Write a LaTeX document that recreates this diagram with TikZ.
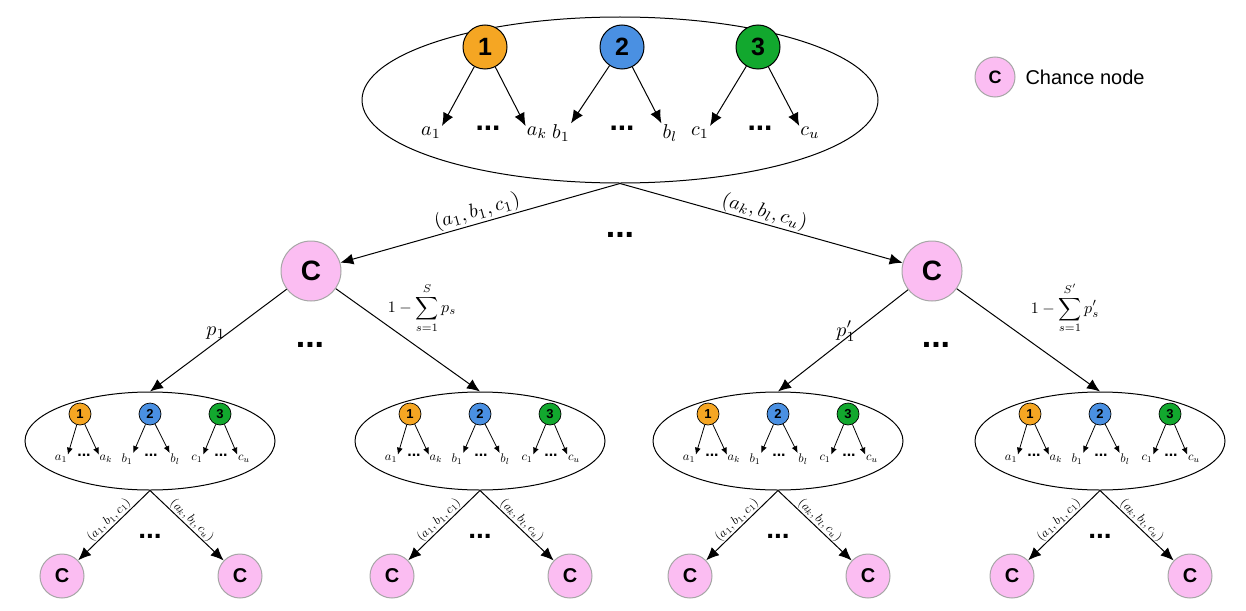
\documentclass[tikz,border=0pt]{standalone}
\usepackage{fontspec}
\newfontfamily\arial{Liberation Sans}
\usetikzlibrary{arrows.meta,shapes.geometric}
\definecolor{porange}{HTML}{F5A623}
\definecolor{pblue}{HTML}{4A90E2}
\definecolor{pgreen}{HTML}{12A82E}
\definecolor{cpink}{HTML}{FBBDF2}
\newcommand{\LabBig}[1]{\scalebox{2}{$#1$}}
\newcommand{\LabSm}[1]{\scalebox{1.25}{$#1$}}
\tikzset{
  x=1pt,y=-1pt,
  bigarr/.style={-{Latex[length=13pt,width=11pt]},line width=1pt},
  smarr/.style={-{Latex[length=7pt,width=6pt]},line width=0.8pt},
  player/.style={circle,draw,line width=1pt,minimum size=44pt,inner sep=0pt,font=\arial\bfseries\fontsize{25}{25}\selectfont},
  splayer/.style={circle,draw,line width=0.7pt,minimum size=22pt,inner sep=0pt,font=\arial\bfseries\fontsize{13}{13}\selectfont},
  chance/.style={circle,draw=gray!70,line width=1pt,fill=cpink,minimum size=#1,inner sep=0pt,font=\arial\bfseries},
  game/.style={ellipse,draw,line width=1pt},
  lab/.style={inner sep=1pt},
  slab/.style={inner sep=0.5pt},
  dots/.style={font=\arial\bfseries\fontsize{30}{30}\selectfont},
  sdots/.style={font=\arial\bfseries\fontsize{16}{16}\selectfont},
}
\newcommand{\smallgame}[3]{%
  \node[game,minimum width=250pt,minimum height=98pt] (#1) at (#2,#3) {};
  \node[splayer,fill=porange] (#1p1) at (#2-70,#3-27) {1};
  \node[splayer,fill=pblue] (#1p2) at (#2,#3-27) {2};
  \node[splayer,fill=pgreen] (#1p3) at (#2+70,#3-27) {3};
  \node[slab] (#1a1) at (#2-89,#3+18) {\LabSm{a_1}};
  \node[slab] (#1ak) at (#2-44,#3+18) {\LabSm{a_k}};
  \node[slab] (#1b1) at (#2-23,#3+18) {\LabSm{b_1}};
  \node[slab] (#1bl) at (#2+25,#3+18) {\LabSm{b_l}};
  \node[slab] (#1c1) at (#2+47,#3+18) {\LabSm{c_1}};
  \node[slab] (#1cu) at (#2+94,#3+18) {\LabSm{c_u}};
  \node[sdots] (#1d1) at (#2-66,#3+14) {...};
  \node[sdots] (#1d2) at (#2+1,#3+14) {...};
  \node[sdots] (#1d3) at (#2+71,#3+14) {...};
  \draw[smarr] (#1p1) -- (#1a1.north east);
  \draw[smarr] (#1p1) -- (#1ak.north west);
  \draw[smarr] (#1p2) -- (#1b1.north east);
  \draw[smarr] (#1p2) -- (#1bl.north west);
  \draw[smarr] (#1p3) -- (#1c1.north east);
  \draw[smarr] (#1p3) -- (#1cu.north west);
  \node[chance=44pt,font=\arial\bfseries\fontsize{20}{20}\selectfont] (#1L) at (#2-88,#3+135) {C};
  \node[chance=44pt,font=\arial\bfseries\fontsize{20}{20}\selectfont] (#1R) at (#2+90,#3+135) {C};
  \draw[bigarr] (#1.south) -- node[slab,sloped,above,pos=0.5]{\LabSm{(a_1,b_1,c_1)}} (#1L);
  \draw[bigarr] (#1.south) -- node[slab,sloped,above,pos=0.5]{\LabSm{(a_k,b_l,c_u)}} (#1R);
  \node[dots,font=\arial\bfseries\fontsize{28}{28}\selectfont] (#1dd) at (#2,#3+95) {...};
}
\begin{document}
\begin{tikzpicture}
\useasboundingbox (0,0) rectangle (1246,610);
\node[game,minimum width=516pt,minimum height=166pt] (top) at (620,100) {};
\node[player,fill=porange] (p1) at (485,47) {1};
\node[player,fill=pblue] (p2) at (622,47) {2};
\node[player,fill=pgreen] (p3) at (758,47) {3};
\node[lab] (a1) at (431,133) {\LabBig{a_1}};
\node[lab] (ak) at (537,133) {\LabBig{a_k}};
\node[lab] (b1) at (561,133) {\LabBig{b_1}};
\node[lab] (bl) at (670,133) {\LabBig{b_l}};
\node[lab] (c1) at (700,133) {\LabBig{c_1}};
\node[lab] (cu) at (810,133) {\LabBig{c_u}};
\node[dots] (d1) at (488,128) {...};
\node[dots] (d2) at (622,128) {...};
\node[dots] (d3) at (760,128) {...};
\draw[bigarr] (p1) -- (a1.north east);
\draw[bigarr] (p1) -- (ak.north west);
\draw[bigarr] (p2) -- (b1.north east);
\draw[bigarr] (p2) -- (bl.north west);
\draw[bigarr] (p3) -- (c1.north east);
\draw[bigarr] (p3) -- (cu.north west);
\node[chance=40pt,font=\arial\bfseries\fontsize{18}{18}\selectfont] (leg) at (995,77) {C};
\node[anchor=west,font=\arial\fontsize{20}{20}\selectfont] (legt) at (1022,77) {Chance node};
\node[chance=60pt,font=\arial\bfseries\fontsize{28}{28}\selectfont] (cl) at (311,271) {C};
\node[chance=60pt,font=\arial\bfseries\fontsize{28}{28}\selectfont] (cr) at (932,271) {C};
\draw[bigarr] (top.south) -- node[lab,sloped,above]{\LabBig{(a_1,b_1,c_1)}} (cl);
\draw[bigarr] (top.south) -- node[lab,sloped,above]{\LabBig{(a_k,b_l,c_u)}} (cr);
\node[dots,font=\arial\bfseries\fontsize{34}{34}\selectfont] (md) at (620,235) {...};
\smallgame{g1}{150}{441}
\smallgame{g2}{480}{441}
\smallgame{g3}{778}{441}
\smallgame{g4}{1100}{441}
\draw[bigarr] (cl) -- (g1.north);
\draw[bigarr] (cl) -- (g2.north);
\draw[bigarr] (cr) -- (g3.north);
\draw[bigarr] (cr) -- (g4.north);
\node[lab] (lp1) at (216,333) {\LabBig{p_1}};
\node[lab] (ls1) at (422,308) {\scalebox{1.6}{$\displaystyle 1-\sum_{s=1}^{S}p_s$}};
\node[dots,font=\arial\bfseries\fontsize{34}{34}\selectfont] (dl) at (310,345) {...};
\node[lab] (lp2) at (846,331) {\LabBig{p'_1}};
\node[lab] (ls2) at (1065,308) {\scalebox{1.6}{$\displaystyle 1-\sum_{s=1}^{S'}p'_s$}};
\node[dots,font=\arial\bfseries\fontsize{34}{34}\selectfont] (dr) at (936,345) {...};
\end{tikzpicture}
\end{document}
